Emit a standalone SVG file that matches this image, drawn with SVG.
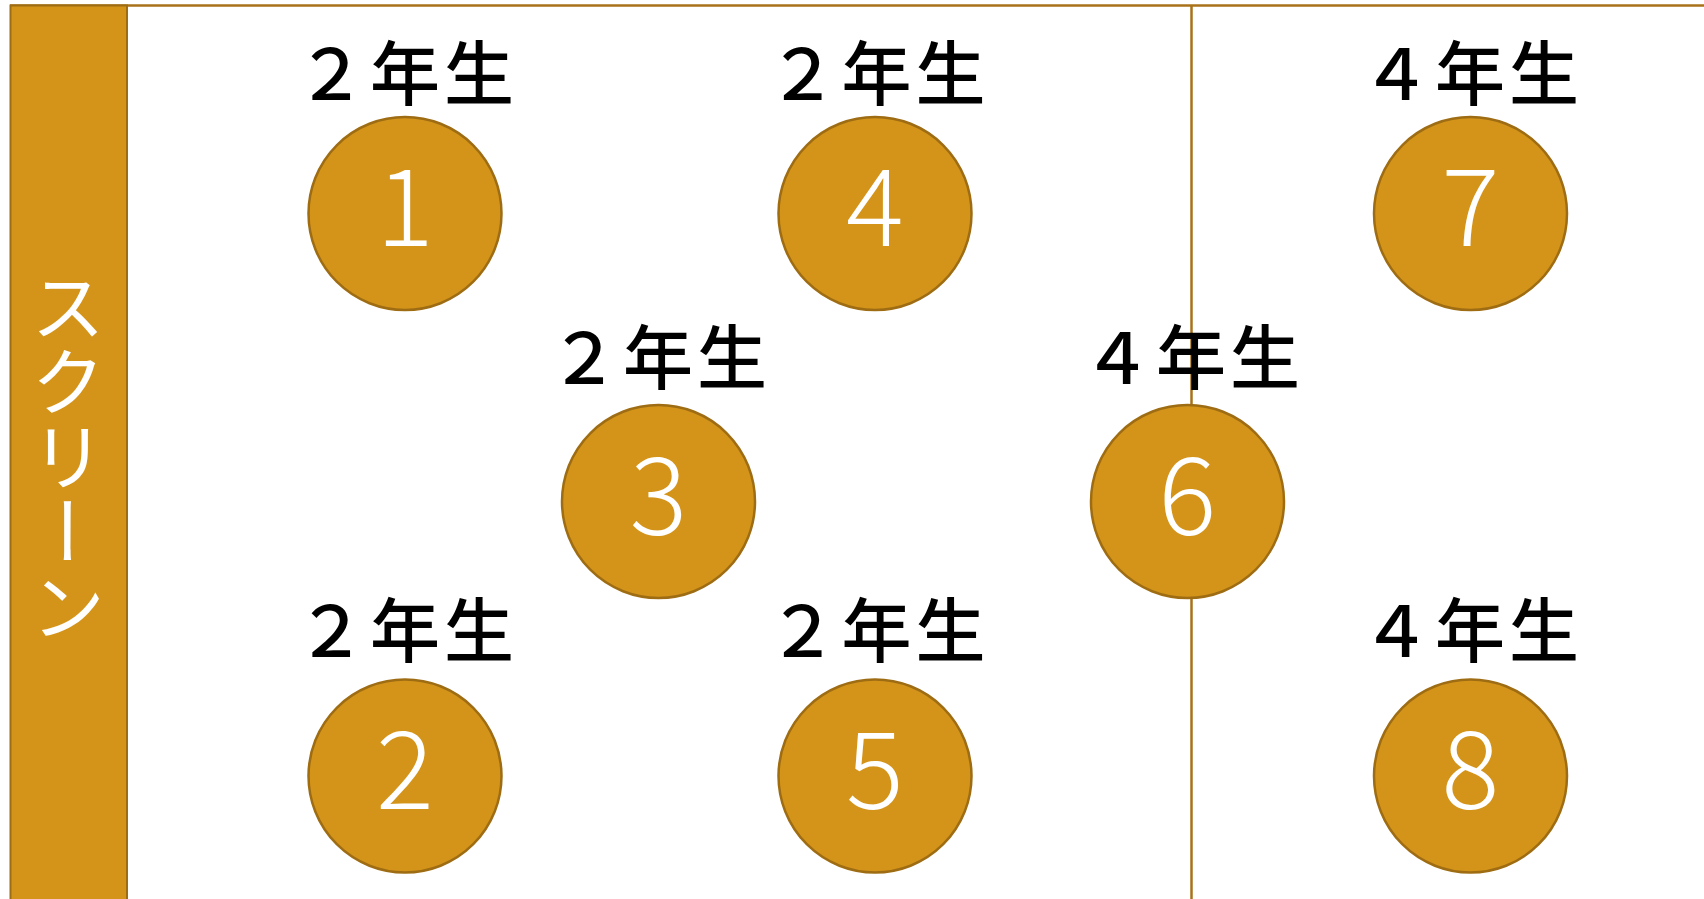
<svg xmlns="http://www.w3.org/2000/svg" width="1704" height="899" viewBox="0 0 1704 899">
<style>
.seat{fill:#D4941A;stroke:#9E6C12;stroke-width:2.5}
.num{font-family:"Noto Sans CJK JP","Noto Sans",sans-serif;font-weight:300;font-size:108px;fill:#FFFFFF;text-anchor:middle}
.lbl{font-family:"Noto Sans CJK JP",sans-serif;font-weight:500;font-size:70px;letter-spacing:4px;fill:#000000}
.wall{stroke:#A8721A;stroke-width:2.5;fill:none}
</style>
<rect width="1704" height="899" fill="#FFFFFF"/>
<g id="connectors">
<line class="wall" x1="10" y1="5.5" x2="1704" y2="5.5"/>
<line class="wall" x1="1191.5" y1="5.5" x2="1191.5" y2="899"/>
</g>
<g id="screen">
<rect x="10.5" y="5.5" width="116.5" height="900" fill="#D4941A" stroke="#9E6C12" stroke-width="2"/>
<text x="68" y="456" style="writing-mode:vertical-rl;font-family:'Noto Sans CJK JP',sans-serif;font-size:75px;fill:#FFFFFF;text-anchor:middle">スクリーン</text>
</g>
<g id="seat1">
<text class="lbl" x="296" y="100">２年生</text>
<circle class="seat" cx="405" cy="213.5" r="96.5"/>
<text class="num" x="405" y="246">1</text>
</g>
<g id="seat2">
<text class="lbl" x="296" y="656.5">２年生</text>
<circle class="seat" cx="405" cy="776" r="96.5"/>
<text class="num" x="405" y="809">2</text>
</g>
<g id="seat3">
<text class="lbl" x="549" y="383.5">２年生</text>
<circle class="seat" cx="658.5" cy="501.5" r="96.5"/>
<text class="num" x="658.5" y="535">3</text>
</g>
<g id="seat4">
<text class="lbl" x="767.5" y="100">２年生</text>
<circle class="seat" cx="875" cy="213.5" r="96.5"/>
<text class="num" x="875" y="246">4</text>
</g>
<g id="seat5">
<text class="lbl" x="767.5" y="656.5">２年生</text>
<circle class="seat" cx="875" cy="776" r="96.5"/>
<text class="num" x="875" y="809">5</text>
</g>
<g id="seat6">
<text class="lbl" x="1082" y="383.5">４年生</text>
<circle class="seat" cx="1187.5" cy="501.5" r="96.5"/>
<text class="num" x="1187.5" y="535">6</text>
</g>
<g id="seat7">
<text class="lbl" x="1361" y="100">４年生</text>
<circle class="seat" cx="1470.5" cy="213.5" r="96.5"/>
<text class="num" x="1470.5" y="246">7</text>
</g>
<g id="seat8">
<text class="lbl" x="1361" y="656.5">４年生</text>
<circle class="seat" cx="1470.5" cy="776" r="96.5"/>
<text class="num" x="1470.5" y="809">8</text>
</g>
</svg>
